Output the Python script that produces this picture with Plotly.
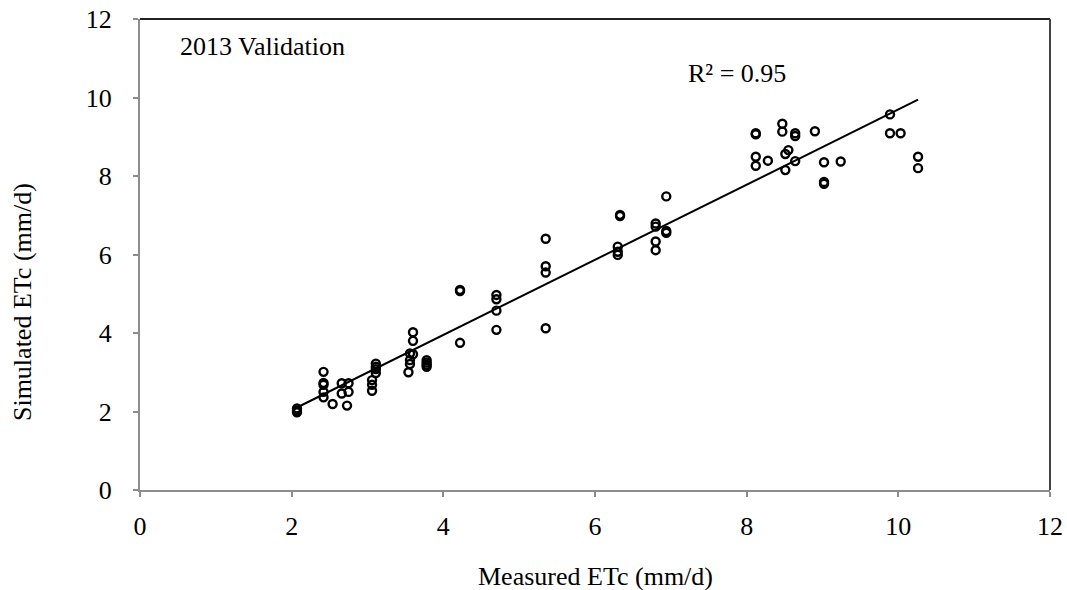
import numpy as np
import plotly.graph_objects as go

# Measured ETc (mm/d)
measured = [
    2.07, 2.07, 2.07,
    2.42, 2.42, 2.42, 2.42, 2.42,
    2.54,
    2.66, 2.66,
    2.75, 2.75,
    2.73,
    3.06, 3.06, 3.06,
    3.11, 3.11, 3.11, 3.11,
    3.56, 3.56, 3.56,
    3.54,
    3.60, 3.60, 3.60,
    3.78, 3.78, 3.78, 3.78,
    4.22, 4.22, 4.22,
    4.70, 4.70, 4.70, 4.70,
    5.35, 5.35, 5.35, 5.35,
    6.33, 6.33,
    6.30, 6.30, 6.30,
    6.80, 6.80, 6.80, 6.80,
    6.94, 6.94, 6.94,
    8.12, 8.12, 8.12, 8.12,
    8.28,
    8.47, 8.47,
    8.64, 8.64, 8.64,
    8.55, 8.51, 8.51,
    8.90,
    9.02, 9.02, 9.02,
    9.24,
    9.89, 9.89,
    10.03,
    10.26, 10.26,
]
# Simulated ETc (mm/d)
simulated = [
    2.08, 2.03, 1.98,
    3.01, 2.73, 2.68, 2.50, 2.36,
    2.19,
    2.72, 2.46,
    2.72, 2.50,
    2.15,
    2.80, 2.68, 2.53,
    3.22, 3.14, 3.08, 2.98,
    3.48, 3.31, 3.21,
    3.00,
    4.02, 3.80, 3.46,
    3.31, 3.25, 3.19, 3.14,
    5.10, 5.07, 3.75,
    4.97, 4.86, 4.57, 4.08,
    6.40, 5.70, 5.54, 4.12,
    7.01, 6.98,
    6.20, 6.07, 5.99,
    6.79, 6.71, 6.33, 6.11,
    7.48, 6.60, 6.55,
    9.09, 9.06, 8.49, 8.26,
    8.39,
    9.33, 9.13,
    9.09, 9.02, 8.38,
    8.66, 8.56, 8.15,
    9.14,
    8.35, 7.85, 7.80,
    8.37,
    9.57, 9.09,
    9.09,
    8.49, 8.20,
]

x_ticks = [0, 2, 4, 6, 8, 10, 12]
y_ticks = [0, 2, 4, 6, 8, 10, 12]

x = np.array(measured)
y = np.array(simulated)
slope, intercept = np.polyfit(x, y, 1)
line_x = np.array([x.min(), x.max()])
line_y = slope * line_x + intercept

FONT = "Liberation Serif, Times New Roman, serif"
GREY = "#8c8c8c"

fig = go.Figure()
fig.add_trace(go.Scatter(
    x=line_x, y=line_y, mode="lines",
    line=dict(color="black", width=2), showlegend=False, hoverinfo="skip",
))
fig.add_trace(go.Scatter(
    x=measured, y=simulated, mode="markers",
    marker=dict(symbol="circle-open", size=8, color="black", line=dict(width=2.4, color="black")),
    showlegend=False,
))

axis_common = dict(
    range=[0, 12], dtick=2, tickvals=x_ticks,
    showgrid=False, zeroline=False,
    showline=True, linecolor=GREY, linewidth=2,
    ticks="outside", ticklen=5, tickwidth=2, tickcolor=GREY,
    tickfont=dict(family=FONT, size=26, color="black"),
)
fig.update_xaxes(**axis_common, ticklabelstandoff=7)
fig.update_yaxes(**{**axis_common, "tickvals": y_ticks}, ticklabelstandoff=16)

fig.add_shape(type="line", xref="paper", yref="paper", x0=0, x1=1, y0=1, y1=1,
              line=dict(color="#222222", width=2))
fig.add_shape(type="line", xref="paper", yref="paper", x0=1, x1=1, y0=0, y1=1,
              line=dict(color="#444444", width=2))

fig.add_annotation(text="2013 Validation", x=0.5, y=11.3, xref="x", yref="y",
                   xanchor="left", yanchor="middle", showarrow=False,
                   font=dict(family=FONT, size=26, color="black"))
fig.add_annotation(text="R² = 0.95", x=7.2, y=10.62, xref="x", yref="y",
                   xanchor="left", yanchor="middle", showarrow=False,
                   font=dict(family=FONT, size=26, color="black"))
fig.add_annotation(text="Measured ETc (mm/d)", x=0.5, y=-0.1847, xref="paper", yref="paper",
                   xanchor="center", yanchor="middle", showarrow=False,
                   font=dict(family=FONT, size=26, color="black"))
fig.add_annotation(text="Simulated ETc (mm/d)", x=-0.1297, y=0.399, xref="paper", yref="paper",
                   xanchor="center", yanchor="middle", showarrow=False, textangle=-90,
                   font=dict(family=FONT, size=26, color="black"))

fig.update_layout(
    width=1067, height=590,
    margin=dict(l=140, r=17, t=19, b=100, autoexpand=False),
    paper_bgcolor="white", plot_bgcolor="white",
)

fig.write_html("out.html")
